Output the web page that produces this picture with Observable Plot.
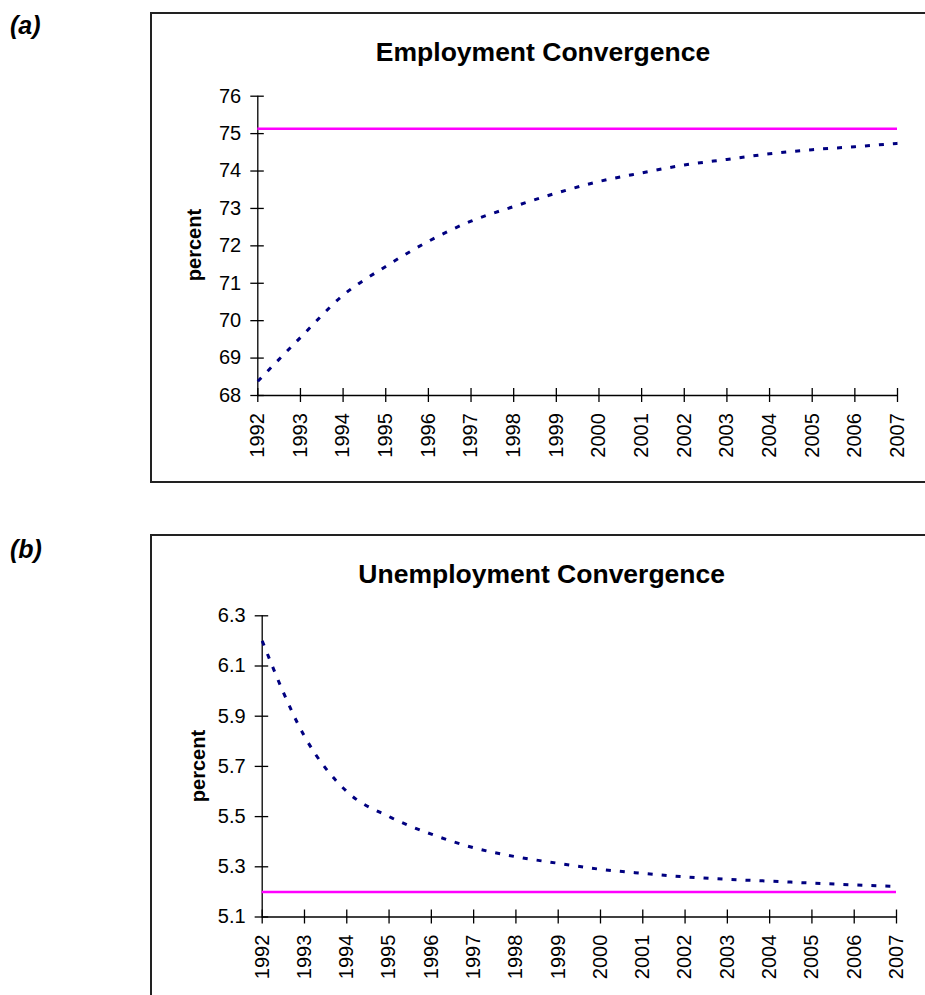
<!DOCTYPE html>
<html>
<head>
<meta charset="utf-8">
<script src="https://cdn.jsdelivr.net/npm/d3@7"></script>
<script src="https://cdn.jsdelivr.net/npm/@observablehq/plot@0.6"></script>
<style>
  html, body { margin: 0; padding: 0; background: #fff; }
  body { position: relative; width: 925px; height: 995px; overflow: hidden;
         font-family: "Liberation Sans", Arial, sans-serif; }
  .box { position: absolute; box-sizing: border-box; border: 2px solid #222; }
  .t { position: absolute; white-space: nowrap; line-height: 1; color: #000; }
  .chart { position: absolute; left: 0; }
</style>
</head>
<body>
<script>
// Years on the horizontal axis (both panels)
const years = [1992, 1993, 1994, 1995, 1996, 1997, 1998, 1999, 2000, 2001, 2002, 2003, 2004, 2005, 2006, 2007];

// (a) Employment rate path and its long-run level, percent
const employment = [68.38, 69.55, 70.68, 71.45, 72.12, 72.66, 73.05, 73.41, 73.72, 73.95, 74.16, 74.31, 74.46, 74.57, 74.65, 74.74];
const employmentTarget = 75.13;
const employmentTicks = [68, 69, 70, 71, 72, 73, 74, 75, 76];

// (b) Unemployment rate path and its long-run level, percent
const unemployment = [6.20, 5.82, 5.60, 5.50, 5.43, 5.376, 5.34, 5.314, 5.29, 5.274, 5.26, 5.25, 5.243, 5.235, 5.228, 5.222];
const unemploymentTarget = 5.2;
const unemploymentTicks = [5.1, 5.3, 5.5, 5.7, 5.9, 6.1, 6.3];

const FONT = '"Liberation Sans", Arial, sans-serif';

function addDiv(cls, style, text) {
  const d = document.createElement("div");
  d.className = cls;
  Object.assign(d.style, style);
  if (text != null) d.textContent = text;
  document.body.appendChild(d);
  return d;
}

function panel({values, target, ticks, fmt, top, height, mt, mb, ml, mr}) {
  const data = years.map((year, i) => ({year, value: values[i]}));
  const plot = Plot.plot({
    width: 925,
    height,
    marginTop: mt, marginBottom: mb, marginLeft: ml, marginRight: mr,
    style: {background: "none", fontFamily: FONT, overflow: "visible"},
    x: {type: "linear", domain: [years[0], years[years.length - 1]], label: null, axis: null},
    y: {domain: [ticks[0], ticks[ticks.length - 1]], label: null, axis: null},
    marks: [
      // axis lines
      Plot.ruleX([years[0]], {stroke: "#000", strokeWidth: 1.3}),
      Plot.ruleY([ticks[0]], {stroke: "#000", strokeWidth: 1.3}),
      // crossing tick marks on the value axis
      Plot.axisY(ticks, {tickSize: 13.5, dx: 6.5, fill: "none", stroke: "#000", strokeWidth: 1.3, label: null}),
      Plot.axisY(ticks, {tickSize: 0, tickPadding: 16.6, stroke: "none", fill: "#000", fontSize: 20, tickFormat: fmt, label: null}),
      // crossing tick marks and rotated year labels
      Plot.axisX(years, {tickSize: 14, dy: -7, fill: "none", stroke: "#000", strokeWidth: 1.3, label: null}),
      Plot.axisX(years, {tickSize: 0, tickPadding: 17.7, tickRotate: -90, stroke: "none", fill: "#000", fontSize: 20, tickFormat: d => String(d), label: null}),
      // long-run level
      Plot.ruleY([target], {stroke: "#FF00FF", strokeWidth: 2.5}),
      // convergence path
      Plot.line(data, {x: "year", y: "value", stroke: "#000080", strokeWidth: 3, strokeDasharray: "5,9",
                       strokeLinecap: "butt", curve: "monotone-x"})
    ]
  });
  plot.classList.add("chart");
  plot.style.top = top + "px";
  document.body.appendChild(plot);
}

// frames
addDiv("box", {left: "149.7px", top: "12.3px", width: "800px", height: "470.4px"});
addDiv("box", {left: "149.7px", top: "534px", width: "800px", height: "500px"});

panel({values: employment, target: employmentTarget, ticks: employmentTicks, fmt: d => String(d),
       top: 0, height: 480, mt: 95.7, mb: 85, ml: 257.3, mr: 28});
panel({values: unemployment, target: unemploymentTarget, ticks: unemploymentTicks, fmt: d3.format(".1f"),
       top: 520, height: 475, mt: 95.3, mb: 78.5, ml: 261.7, mr: 29});

// panel letters
addDiv("t", {left: "10px", top: "13px", fontSize: "25px", fontWeight: "bold", fontStyle: "italic"}, "(a)");
addDiv("t", {left: "10px", top: "537px", fontSize: "25px", fontWeight: "bold", fontStyle: "italic"}, "(b)");

// titles
addDiv("t", {left: "243px", width: "600px", textAlign: "center", top: "38.6px", fontSize: "26.5px", fontWeight: "bold"}, "Employment Convergence");
addDiv("t", {left: "241.7px", width: "600px", textAlign: "center", top: "560.9px", fontSize: "26.5px", fontWeight: "bold"}, "Unemployment Convergence");

// vertical axis titles
addDiv("t", {left: "193.6px", top: "245.3px", fontSize: "20px", fontWeight: "bold", transform: "translate(-50%,-50%) rotate(-90deg)"}, "percent");
addDiv("t", {left: "198px", top: "766px", fontSize: "20px", fontWeight: "bold", transform: "translate(-50%,-50%) rotate(-90deg)"}, "percent");
</script>
</body>
</html>
